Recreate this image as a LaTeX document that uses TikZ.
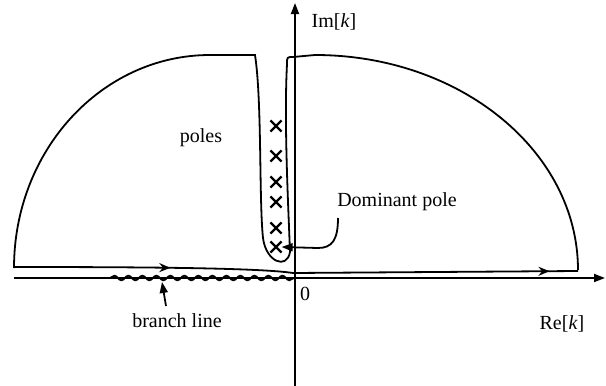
\documentclass[tikz,border=0pt]{standalone}
\usepackage{fontspec}
\setmainfont{Liberation Serif}
\usetikzlibrary{arrows.meta,decorations.pathmorphing,decorations.markings,shapes.misc}
\tikzset{
  axisline/.style={line width=1.8pt,-{Triangle[length=11pt,width=8pt]}},
  contour/.style={line width=1.8pt},
  midarrow/.style={postaction={decorate},decoration={markings,mark=at position #1 with {\arrow{Stealth[length=11pt,width=9pt]}}}},
  pole/.style={cross out,draw,line width=2.2pt,minimum size=9pt,inner sep=0pt},
  lbl/.style={font=\fontsize{20}{22}\selectfont,inner sep=0pt,anchor=base},
  pointer/.style={line width=1.8pt,-{Triangle[length=11pt,width=8pt]}}
}
\begin{document}
\begin{tikzpicture}[x=1pt,y=-1pt]
\useasboundingbox (0,0) rectangle (606,386);
% axes
\coordinate (xl) at (14,278);
\coordinate (xr) at (605,278);
\coordinate (yb) at (295,386);
\coordinate (yt) at (295,3);
\draw[axisline] (xl) -- (xr);
\draw[axisline] (yb) -- (yt);
% branch line
\coordinate (b0) at (110,278);
\coordinate (b1) at (294,278);
\draw[line width=1.8pt,decorate,decoration={snake,amplitude=2.3pt,segment length=14pt}] (b0) -- (b1);
% contour
\draw[contour] (14,268) arc[start angle=180,end angle=270,x radius=196,y radius=213]
  -- (255,55) .. controls (262,100) and (259,200) .. (263,238)
  .. controls (266,262) and (287,270) .. (290,252)
  .. controls (288,200) and (284,120) .. (287,64)
  .. controls (287,57) .. (293,57) -- (315,55)
  arc[start angle=270,end angle=360,x radius=263,y radius=215];
\draw[contour,midarrow=0.56] (14,267) .. controls (150,267) and (260,268) .. (293,273);
\draw[contour,midarrow=0.9] (293,273) -- (578,271);
% poles
\node[pole] (p1) at (276,126) {};
\node[pole] (p2) at (276,156) {};
\node[pole] (p3) at (276,182) {};
\node[pole] (p4) at (276,202) {};
\node[pole] (p5) at (276,228) {};
\node[pole] (p6) at (276,247) {};
% labels
\node[lbl] (im) at (334,27) {Im[\textit{k}]};
\node[lbl] (re) at (562,329) {Re[\textit{k}]};
\node[lbl] (zero) at (305,300) {0};
\node[lbl] (poles) at (201,142) {poles};
\node[lbl] (dom) at (397,206) {Dominant pole};
\node[lbl] (branch) at (177,327) {branch line};
% pointers
\coordinate (d0) at (338,218);
\draw[pointer] (d0) .. controls (338,240) and (332,248) .. (318,248) -- (p6.east);
\coordinate (bt) at (162,282);
\coordinate (bs) at (166,306);
\draw[pointer] (bs) -- (bt);
\end{tikzpicture}
\end{document}
